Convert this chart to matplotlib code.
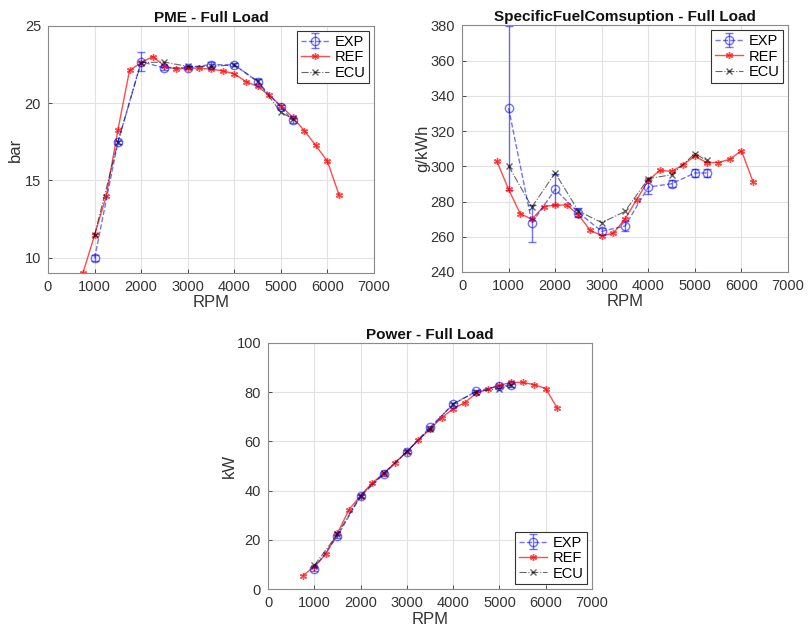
import matplotlib
matplotlib.use("Agg")
import matplotlib.pyplot as plt

plt.rcParams["font.family"] = ["Liberation Sans", "DejaVu Sans"]

# Regímenes de giro
rpm_exp = [1000, 1500, 2000, 2500, 3000, 3500, 4000, 4500, 5000, 5250]
rpm_ref = [750, 1000, 1250, 1500, 1750, 2000, 2250, 2500, 2750, 3000, 3250, 3500,
           3750, 4000, 4250, 4500, 4750, 5000, 5250, 5500, 5750, 6000, 6250]

# PME (bar)
pme_exp = [9.95, 17.47, 22.70, 22.27, 22.31, 22.50, 22.48, 21.39, 19.75, 18.89]
pme_exp_err = [0.2, 0.1, 0.6, 0.15, 0.1, 0.15, 0.1, 0.15, 0.15, 0.15]
pme_ref = [9.0, 11.45, 13.99, 18.25, 22.12, 22.63, 23.02, 22.42, 22.2, 22.27, 22.27, 22.2,
           22.1, 21.9, 21.4, 21.09, 20.5, 19.84, 19.09, 18.23, 17.26, 16.23, 14.05]
pme_ecu = [11.45, 17.47, 22.63, 22.66, 22.38, 22.38, 22.48, 21.43, 19.41, 19.0]

# Consumo específico (g/kWh)
sfc_exp = [333.1, 267.8, 286.9, 273.7, 263.1, 266.1, 288.2, 290.1, 296.2, 296.2]
sfc_exp_err = [46.5, 10.5, 9.0, 2.5, 2.0, 3.0, 4.2, 2.0, 2.0, 2.5]
sfc_ref = [302.8, 286.9, 273.1, 269.9, 277.1, 278.0, 278.0, 272.5, 263.7, 260.6, 262.0, 270.1,
           281.1, 292.0, 297.7, 297.1, 300.9, 305.8, 302.1, 302.1, 304.0, 308.9, 291.1]
sfc_ecu = [300.2, 276.9, 296.2, 274.6, 268.0, 274.4, 293.0, 295.2, 307.2, 303.4]

# Potencia (kW)
pow_exp = [8.4, 21.6, 37.8, 46.6, 55.8, 65.7, 75.0, 80.4, 82.4, 82.7]
pow_exp_err = [0.8, 0.6, 0.6, 0.5, 0.5, 0.6, 0.6, 0.5, 0.6, 0.6]
pow_ref = [5.5, 9.2, 14.3, 22.7, 32.3, 38.0, 43.1, 47.0, 51.4, 55.8, 60.5, 65.1,
           69.5, 73.2, 75.7, 79.5, 81.2, 82.7, 83.9, 83.9, 83.0, 81.4, 73.4]
pow_ecu = [9.7, 22.3, 38.0, 47.0, 55.9, 65.1, 75.3, 80.1, 81.4, 82.7]


def draw(ax, exp, err, ref, ecu, title, ylabel, ylim, yticks, loc, ypad):
    h_exp = ax.errorbar(rpm_exp, exp, yerr=err, fmt="--o", color="blue", alpha=0.55,
                        mfc="none", ms=6, lw=1, capsize=3, elinewidth=1, label="EXP")
    h_ref, = ax.plot(rpm_ref, ref, "-", marker=(6, 2, 0), color="red", alpha=0.7,
                     ms=5, mew=1, lw=1, label="REF")
    h_ecu, = ax.plot(rpm_exp, ecu, "-.x", color="black", alpha=0.6, ms=4, lw=0.8,
                     label="ECU")

    ax.set_xlim(0, 7000)
    ax.set_ylim(*ylim)
    ax.set_xticks(range(0, 7001, 1000))
    ax.set_yticks(yticks)
    ax.set_title(title, fontsize=11, fontweight="bold", color="#111111", pad=3)
    ax.set_xlabel("RPM", fontsize=12, color="#333333", labelpad=1)
    ax.set_ylabel(ylabel, fontsize=12, color="#333333", labelpad=ypad)
    ax.grid(True, color="#e2e2e2", lw=0.8)
    ax.set_axisbelow(True)
    ax.tick_params(labelsize=10.5, colors="#333333", length=3, width=0.6,
                   direction="in", pad=5)
    for s in ax.spines.values():
        s.set_color("#8a8a8a")
        s.set_linewidth(0.8)
    leg = ax.legend([h_exp, h_ref, h_ecu], ["EXP", "REF", "ECU"], loc=loc,
                    fontsize=10.5, fancybox=False, framealpha=1,
                    edgecolor="#333333", borderpad=0.25, labelspacing=0.1,
                    handlelength=1.9, handletextpad=0.4, borderaxespad=0.35)
    leg.get_frame().set_linewidth(0.8)


fig = plt.figure(figsize=(8.08, 6.34), dpi=100)

ax1 = fig.add_axes([0.0594, 0.5694, 0.4035, 0.3896])
draw(ax1, pme_exp, pme_exp_err, pme_ref, pme_ecu, "PME - Full Load", "bar",
     (9, 25), [10, 15, 20, 25], "upper right", 1)

ax2 = fig.add_axes([0.5718, 0.5710, 0.4035, 0.3890])
draw(ax2, sfc_exp, sfc_exp_err, sfc_ref, sfc_ecu, "SpecificFuelComsuption - Full Load",
     "g/kWh", (240, 380), range(240, 381, 20), "upper right", 0)

ax3 = fig.add_axes([0.3317, 0.0705, 0.4010, 0.3890])
draw(ax3, pow_exp, pow_exp_err, pow_ref, pow_ecu, "Power - Full Load", "kW",
     (0, 100), range(0, 101, 20), "lower right", -0.5)

fig.savefig("out.png", dpi=100)
plt.close(fig)
